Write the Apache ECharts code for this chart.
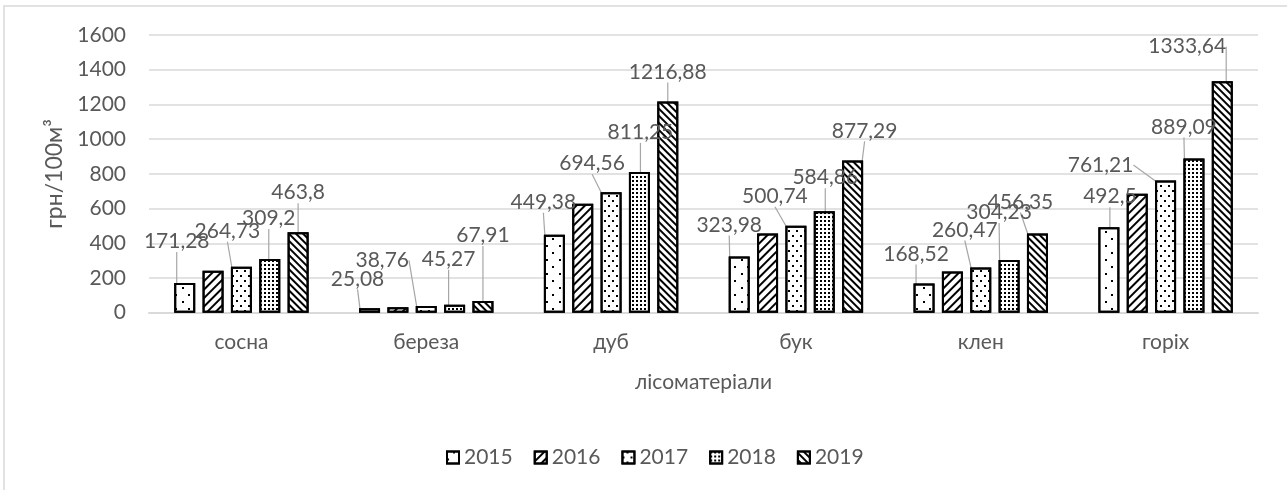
<!DOCTYPE html>
<html>
<head>
<meta charset="utf-8">
<script src="https://cdn.jsdelivr.net/npm/echarts@6/dist/echarts.min.js"></script>
<style>
html,body{margin:0;padding:0;background:#fff;}
#chart{width:1287px;height:490px;}
</style>
</head>
<body>
<div id="chart"></div>
<script>
// ---- data ----
const categories = ['сосна', 'береза', 'дуб', 'бук', 'клен', 'горіх'];
const years = ['2015', '2016', '2017', '2018', '2019'];
const v2015 = [171.28, 25.08, 449.38, 323.98, 168.52, 492.5];
const v2016 = [242, 32, 628, 456, 238, 686];
const v2017 = [264.73, 38.76, 694.56, 500.74, 260.47, 761.21];
const v2018 = [309.2, 45.27, 811.25, 584.86, 304.23, 889.09];
const v2019 = [463.8, 67.91, 1216.88, 877.29, 456.35, 1333.64];
const yMin = 0, yMax = 1600, yStep = 200;
const yName = 'грн/100м³';
const xName = 'лісоматеріали';

// ---- layout / style (not data) ----
const FONT = 'Lato, "Open Sans", sans-serif';
const TXT = '#595959';
const showLabel = [true, false, true, true, true];
// label displacement (dx, dy) per series, per category
const labelShift = [
  [[-8,-26],[-12,-14],[-11,-17],[-10,-16],[-8,-14],[1,-15]],
  [[0,0],[0,0],[0,0],[0,0],[0,0],[0,0]],
  [[-14,-20],[-44,-30],[-19,-13],[-21,-14],[-16,-22],[-65,0]],
  [[-1,-25],[-6,-30],[1,-24],[1,-18],[-10,-32],[-10,-16]],
  [[0,-24],[0,-50],[0,-14],[12,-14],[-17,-16],[-35,-19]]
];
const decals = [
  {symbol:'rect', symbolSize:1, color:'#000', dashArrayX:[[1.5,10.5],[0,6,1.5,4.5]], dashArrayY:[1.5,4.5], rotation:0},
  {symbol:'rect', symbolSize:1, color:'#000', dashArrayX:[1,0], dashArrayY:[1.3,3.5], rotation:-Math.PI/4},
  {symbol:'rect', symbolSize:1, color:'#000', dashArrayX:[[1.6,5.4],[0,3.5,1.6,1.9]], dashArrayY:[1.6,2.4], rotation:0},
  {symbol:'rect', symbolSize:1, color:'#000', dashArrayX:[1.5,1.5], dashArrayY:[1.5,1.5], rotation:0},
  {symbol:'rect', symbolSize:1, color:'#000', dashArrayX:[1,0], dashArrayY:[1.8,2.4], rotation:Math.PI/4}
];
const values = [v2015, v2016, v2017, v2018, v2019];

const fmt = v => String(v).replace('.', ',');

const series = years.map((y, i) => ({
  name: y,
  type: 'bar',
  data: values[i],
  barWidth: 21,
  barGap: '35%',
  itemStyle: { color: '#fff', borderColor: '#000', borderWidth: 2, decal: decals[i] },
  label: {
    show: showLabel[i],
    position: 'top',
    distance: 5,
    color: TXT,
    fontFamily: FONT,
    fontSize: 21,
    formatter: p => fmt(p.value)
  },
  labelLine: { show: showLabel[i], lineStyle: { color: '#a6a6a6', width: 1.2 } },
  labelLayout: p => ({ dx: labelShift[i][p.dataIndex][0], dy: labelShift[i][p.dataIndex][1] }),
  emphasis: { disabled: true }
}));

const chart = echarts.init(document.getElementById('chart'), null, { renderer: 'canvas' });
chart.setOption({
  animation: false,
  backgroundColor: '#fff',
  textStyle: { fontFamily: FONT },
  graphic: [{
    type: 'rect', silent: true, z: -1,
    shape: { x: 4, y: 6, width: 1400, height: 600 },
    style: { fill: 'none', stroke: '#d9d9d9', lineWidth: 1.5 }
  }],
  grid: { left: 149, right: 29, top: 35, bottom: 177.3 },
  legend: {
    data: years,
    left: 441, top: 442,
    itemWidth: 12, itemHeight: 12, itemGap: 21,
    icon: 'rect',
    textStyle: { color: TXT, fontSize: 21, fontFamily: FONT }
  },
  xAxis: {
    type: 'category',
    data: categories,
    name: xName,
    nameLocation: 'middle',
    nameGap: 59,
    nameTextStyle: { color: TXT, fontSize: 21, fontFamily: FONT },
    axisLine: { lineStyle: { color: '#d9d9d9', width: 2 } },
    axisTick: { show: false },
    axisLabel: { color: TXT, fontSize: 21, fontFamily: FONT, margin: 19 }
  },
  yAxis: {
    type: 'value',
    min: yMin, max: yMax, interval: yStep,
    name: yName,
    nameLocation: 'middle',
    nameGap: 75,
    nameTextStyle: { color: TXT, fontSize: 23, fontFamily: FONT },
    axisLine: { show: false },
    axisTick: { show: false },
    axisLabel: { color: TXT, fontSize: 21, fontFamily: FONT, margin: 23, formatter: v => String(v) },
    splitLine: { lineStyle: { color: '#d9d9d9', width: 1.5 } }
  },
  series: series
});
</script>
</body>
</html>
